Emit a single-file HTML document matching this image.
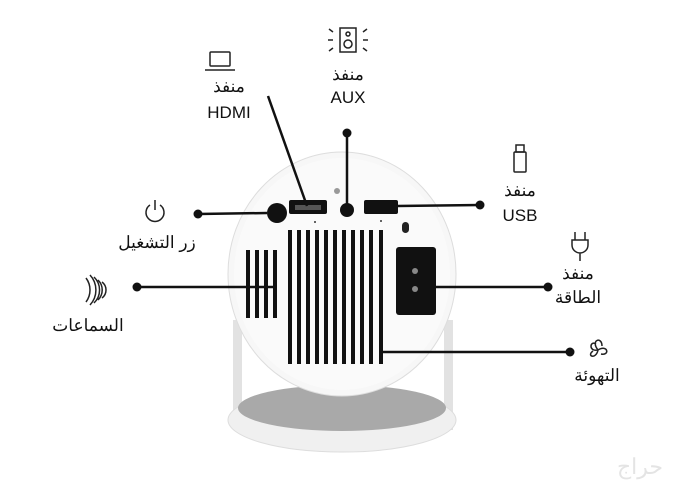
<!DOCTYPE html>
<html><head><meta charset="utf-8"><style>
html,body{margin:0;padding:0;background:#fff;}
svg text{font-family:"Liberation Sans","Noto Sans CJK SC",sans-serif;fill:#111;text-anchor:middle;}
</style></head><body>
<svg width="700" height="486" viewBox="0 0 700 486" xmlns="http://www.w3.org/2000/svg">
<rect width="700" height="486" fill="#fff"/>
<!-- stand -->
<rect x="233" y="320" width="9" height="110" fill="#e2e2e2"/>
<rect x="444" y="320" width="9" height="110" fill="#e2e2e2"/>
<ellipse cx="342" cy="420" rx="114" ry="32" fill="#f0f0f0" stroke="#ddd"/>
<ellipse cx="342" cy="408" rx="104" ry="23" fill="#a9a9a9"/>
<!-- body -->
<ellipse cx="342" cy="274" rx="114" ry="122" fill="#f7f7f7" stroke="#ddd"/>
<ellipse cx="342" cy="274" rx="108" ry="116" fill="#fafafa"/>
<!-- ports -->
<circle cx="277" cy="213" r="10" fill="#111"/>
<rect x="289" y="200" width="38" height="14" rx="2" fill="#111"/>
<rect x="295" y="205" width="26" height="5" fill="#555"/>
<circle cx="347" cy="210" r="7" fill="#111"/>
<rect x="364" y="200" width="34" height="14" rx="2" fill="#111"/>
<circle cx="337" cy="191" r="3" fill="#999"/>
<circle cx="315" cy="222" r="1" fill="#333"/>
<circle cx="381" cy="221" r="1" fill="#333"/>
<!-- vents -->
<g fill="#111">
<rect x="288" y="230" width="4" height="134"/><rect x="297" y="230" width="4" height="134"/>
<rect x="306" y="230" width="4" height="134"/><rect x="315" y="230" width="4" height="134"/>
<rect x="324" y="230" width="4" height="134"/><rect x="333" y="230" width="4" height="134"/>
<rect x="342" y="230" width="4" height="134"/><rect x="351" y="230" width="4" height="134"/>
<rect x="360" y="230" width="4" height="134"/><rect x="369" y="230" width="4" height="134"/>
<rect x="379" y="230" width="4" height="134"/>
<rect x="246" y="250" width="4" height="68"/><rect x="255" y="250" width="4" height="68"/>
<rect x="264" y="250" width="4" height="68"/><rect x="273" y="250" width="4" height="68"/>
</g>
<rect x="396" y="247" width="40" height="68" rx="3" fill="#111"/>
<circle cx="415" cy="271" r="3" fill="#888"/><circle cx="415" cy="289" r="3" fill="#888"/>
<rect x="402" y="222" width="7" height="11" rx="3.5" fill="#222"/>
<!-- lines -->
<g stroke="#111" stroke-width="2.5" fill="none">
<line x1="307" y1="206" x2="268" y2="96"/>
<line x1="347" y1="206" x2="347" y2="133"/>
<line x1="397" y1="206" x2="480" y2="205"/>
<line x1="267" y1="213" x2="198" y2="214"/>
<line x1="276" y1="287" x2="137" y2="287"/>
<line x1="436" y1="287" x2="548" y2="287"/>
<line x1="383" y1="352" x2="570" y2="352"/>
</g>
<g fill="#111">
<circle cx="347" cy="133" r="4.5"/><circle cx="480" cy="205" r="4.5"/>
<circle cx="198" cy="214" r="4.5"/><circle cx="137" cy="287" r="4.5"/>
<circle cx="548" cy="287" r="4.5"/><circle cx="570" cy="352" r="4.5"/>
</g>
<!-- icons -->
<g stroke="#222" stroke-width="1.5" fill="none">
<rect x="210" y="52" width="20" height="14" rx="1"/><path d="M205 70h30"/>
<rect x="340" y="28" width="16" height="24"/><circle cx="348" cy="44" r="4"/><circle cx="348" cy="34" r="2"/>
<path d="M333 32l-4-3M333 40h-5M333 48l-4 3M363 32l4-3M363 40h5M363 48l4 3"/>
<rect x="514" y="152" width="12" height="20" rx="1"/><rect x="516" y="145" width="8" height="7"/>
<path d="M150 205a9 9 0 1 0 10 0M155 200v10"/>
<path d="M102 282a10 10 0 0 1 0 16M98 280a14 14 0 0 1 0 20M94 277a18 18 0 0 1 0 26M90 275a22 22 0 0 1 0 30M86 278a20 20 0 0 1 0 24"/>
<path d="M575 232v8M585 232v8M572 240h16v5a8 8 0 0 1-16 0zM580 253v8"/>
<path d="M598 350c-8-10 4-14 4-4M598 350c10-6 12 6 3 4M598 350c-2 10-12 6-5 1M598 350c-10 2-8-10-2-6"/>
</g>
<!-- labels -->
<g font-size="17">
<text x="229" y="92">منفذ</text><text x="229" y="118">HDMI</text>
<text x="348" y="80">منفذ</text><text x="348" y="103">AUX</text>
<text x="520" y="196">منفذ</text><text x="520" y="221">USB</text>
<text x="157" y="248">زر التشغيل</text>
<text x="88" y="331">السماعات</text>
<text x="578" y="279">منفذ</text><text x="578" y="303">الطاقة</text>
<text x="597" y="381">التهوئة</text>
</g>
<text x="640" y="474" font-size="22" style="fill:#e4e4e4">حراج</text>
</svg>
</body></html>
